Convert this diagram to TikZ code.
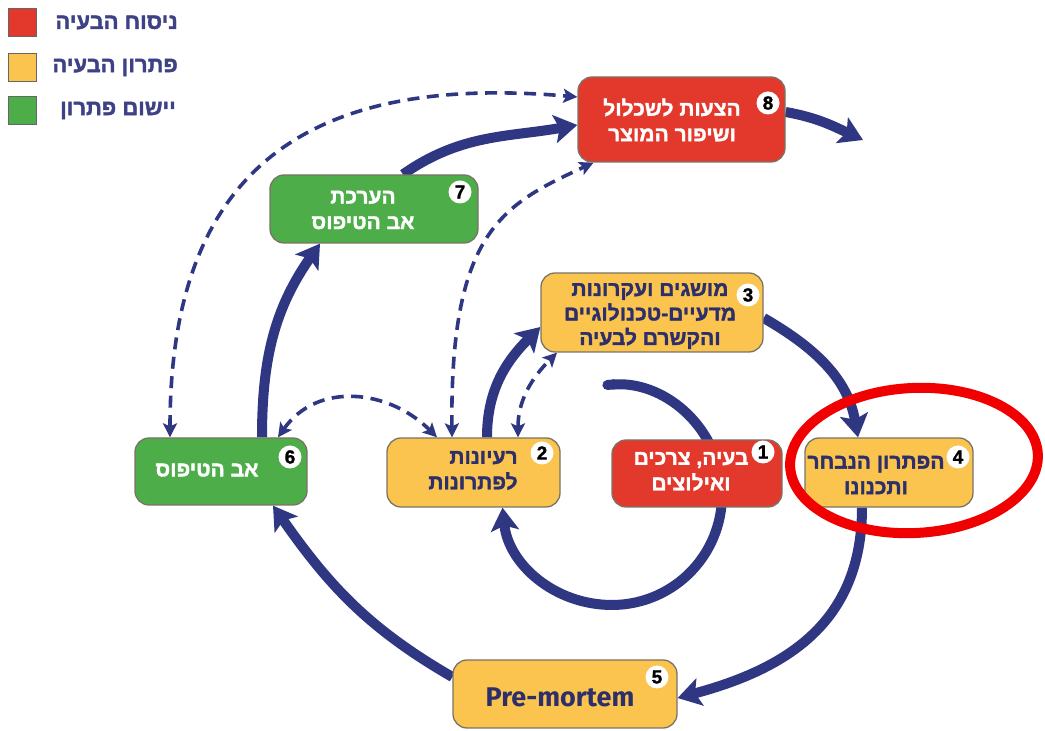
\documentclass[tikz,border=0pt]{standalone}
\usepackage{fontspec}
\usetikzlibrary{arrows.meta}
\TeXXeTstate=1
\newfontfamily\hebfont[Script=Hebrew, BoldFeatures={FakeBold=1.6}]{Liberation Sans}
\newfontfamily\digitfont[BoldFeatures={FakeBold=1.2}]{Liberation Sans}
\newfontfamily\latinfont{Fira Sans}
\newcommand\hebln[1]{\beginR#1\endR}

\definecolor{flowblue}{HTML}{2F3783}
\definecolor{stepred}{HTML}{E3392D}
\definecolor{stepyellow}{HTML}{FAC44F}
\definecolor{stepgreen}{HTML}{4DAD48}
\definecolor{inknavy}{HTML}{2D2F6B}
\definecolor{legendnavy}{HTML}{3E4185}
\definecolor{boxedge}{HTML}{7A7468}
\definecolor{markred}{HTML}{F00000}

\pgfdeclarelayer{paper}
\pgfdeclarelayer{links}
\pgfsetlayers{paper,links,main}

\tikzset{
  stepbox/.style={rounded corners=14pt, draw=boxedge, line width=1.3pt, inner sep=0pt},
  redbox/.style={stepbox, fill=stepred},
  yellowbox/.style={stepbox, fill=stepyellow},
  greenbox/.style={stepbox, fill=stepgreen},
  boxtext/.style={inner sep=0pt, align=center, font=\hebfont\bfseries\fontsize{21}{25.5}\selectfont},
  lighttext/.style={boxtext, text=white},
  darktext/.style={boxtext, text=inknavy},
  stepnum/.style={circle, fill=white, inner sep=0pt, minimum size=23pt, text=black,
    font=\digitfont\bfseries\fontsize{19}{19}\selectfont},
  flow/.style={draw=flowblue, line width=10pt, -{Stealth[length=23pt, width=28pt, inset=5pt]}},
  link/.style={draw=flowblue, line width=3.6pt, dash pattern=on 12pt off 7.5pt,
    {Stealth[length=14pt, width=14pt, inset=3pt]}-{Stealth[length=14pt, width=14pt, inset=3pt]}},
  legendkey/.style={draw=black!60, line width=1pt, minimum size=28pt, inner sep=0pt},
  legendtext/.style={anchor=east, inner sep=0pt, text=legendnavy,
    font=\hebfont\bfseries\fontsize{22}{26}\selectfont},
}

\begin{document}
\begin{tikzpicture}[x=1pt,y=1pt]
\useasboundingbox (0,0) rectangle (1045,731);
\begin{pgfonlayer}{paper}
\fill[white] (0,0) rectangle (1045,731);
\end{pgfonlayer}

% legend
\node[legendkey, fill=stepred] (keyred) at (22.5,708.5) {};
\node[legendkey, fill=stepyellow] (keyyellow) at (22.5,663.5) {};
\node[legendkey, fill=stepgreen] (keygreen) at (22.5,620.5) {};
\node[legendtext] (lblred) at (178,708.5) {\hebln{ניסוח הבעיה}};
\node[legendtext] (lblyellow) at (178,663.5) {\hebln{פתרון הבעיה}};
\node[legendtext] (lblgreen) at (176,620.5) {\hebln{יישום פתרון}};

% step boxes
\node[redbox, minimum width=207pt, minimum height=85pt] (n8) at (681.5,611.5) {};
\node[greenbox, minimum width=208pt, minimum height=68pt] (n7) at (374,522) {};
\node[yellowbox, minimum width=222pt, minimum height=79pt] (n3) at (652,418.5) {};
\node[greenbox, minimum width=172pt, minimum height=67pt] (n6) at (221,259.5) {};
\node[yellowbox, minimum width=173pt, minimum height=69pt] (n2) at (473.5,258.5) {};
\node[redbox, minimum width=170pt, minimum height=67pt] (n1) at (697,257.5) {};
\node[yellowbox, minimum width=168pt, minimum height=69pt] (n4) at (889,258.5) {};
\node[yellowbox, minimum width=224pt, minimum height=68pt] (n5) at (565,37) {};

% step texts
\node[lighttext] (t8) at (672,611) {\hebln{הצעות לשכלול}\\\hebln{ושיפור המוצר}};
\node[lighttext] (t7) at (363,521) {\hebln{הערכת}\\\hebln{אב הטיפוס}};
\node[darktext, font=\hebfont\bfseries\fontsize{21}{24.5}\selectfont] (t3) at (650,415)
  {\hebln{מושגים ועקרונות}\\\hebln{מדעיים-טכנולוגיים}\\\hebln{והקשרם לבעיה}};
\node[lighttext] (t6) at (207,261) {\hebln{אב הטיפוס}};
\node[darktext, align=right] (t2) at (473,260.5) {\hebln{רעיונות}\\\hebln{לפתרונות}};
\node[lighttext] (t1) at (691,259.5) {\hebln{בעיה, צרכים}\\\hebln{ואילוצים}};
\node[darktext] (t4) at (876,256) {\hebln{הפתרון הנבחר}\\\hebln{ותכנונו}};
\node[inner sep=0pt, text=inknavy, font=\latinfont\bfseries\fontsize{27}{30}\selectfont] (t5) at (560,34) {Pre-mortem};

% step numbers
\node[stepnum] (c8) at (768,628) {8};
\node[stepnum] (c7) at (460,539) {7};
\node[stepnum] (c3) at (748,436) {3};
\node[stepnum] (c6) at (290,274) {6};
\node[stepnum] (c2) at (542,278) {2};
\node[stepnum] (c1) at (763,279) {1};
\node[stepnum] (c4) at (958,274) {4};
\node[stepnum] (c5) at (657,54) {5};

\coordinate (spiralstart) at (602.4,345.6);
\coordinate (exit) at (863,591);

\begin{pgfonlayer}{links}
% main flow
\draw[flow, {Round Cap[]}-{Stealth[length=23pt, width=28pt, inset=5pt]}] (spiralstart)
  arc[start angle=95, end angle=-90, radius=110pt]
  to[out=180, in=-84] ([xshift=29pt]n2.south);
\draw[flow] ([xshift=13.5pt]n2.north) to[out=90, in=225] ([yshift=-14.5pt]n3.west);
\draw[flow] ([yshift=-5.5pt]n3.east) to[out=-30, in=100] ([xshift=-31pt]n4.north);
\draw[flow] ([xshift=-27pt]n4.south) to[out=-90, in=15, looseness=1.1] ([yshift=-4pt]n5.east);
\draw[flow] ([yshift=17pt]n5.west) to[out=150, in=-55] ([xshift=52pt]n6.south);
\draw[flow] ([xshift=41pt]n6.north) to[out=90, in=235] ([xshift=-54pt]n7.south);
\draw[flow] ([xshift=29pt]n7.north) to[out=35, in=190] ([yshift=-5.5pt]n8.west);
\draw[flow] ([yshift=7.5pt]n8.east) to[out=-10, in=155] (exit);

% feedback links
\draw[link] ([xshift=-51pt]n6.north) to[out=90, in=175, looseness=1.3] ([yshift=22.5pt]n8.west);
\draw[link] ([xshift=-21.5pt]n2.north) .. controls +(-2,206) and +(-91,-42) .. ([xshift=-88pt]n8.south);
\draw[link] ([xshift=57pt]n6.north) to[out=55, in=135, looseness=1.1] ([xshift=-36.5pt]n2.north);
\draw[link] ([xshift=44.5pt]n2.north) to[out=90, in=225] ([xshift=-95pt]n3.south);
\end{pgfonlayer}

% highlight around step 4
\draw[markred, line width=10pt, rotate around={3:(914,270.5)}] (914,270.5) ellipse [x radius=124pt, y radius=72.5pt];
\end{tikzpicture}
\end{document}
